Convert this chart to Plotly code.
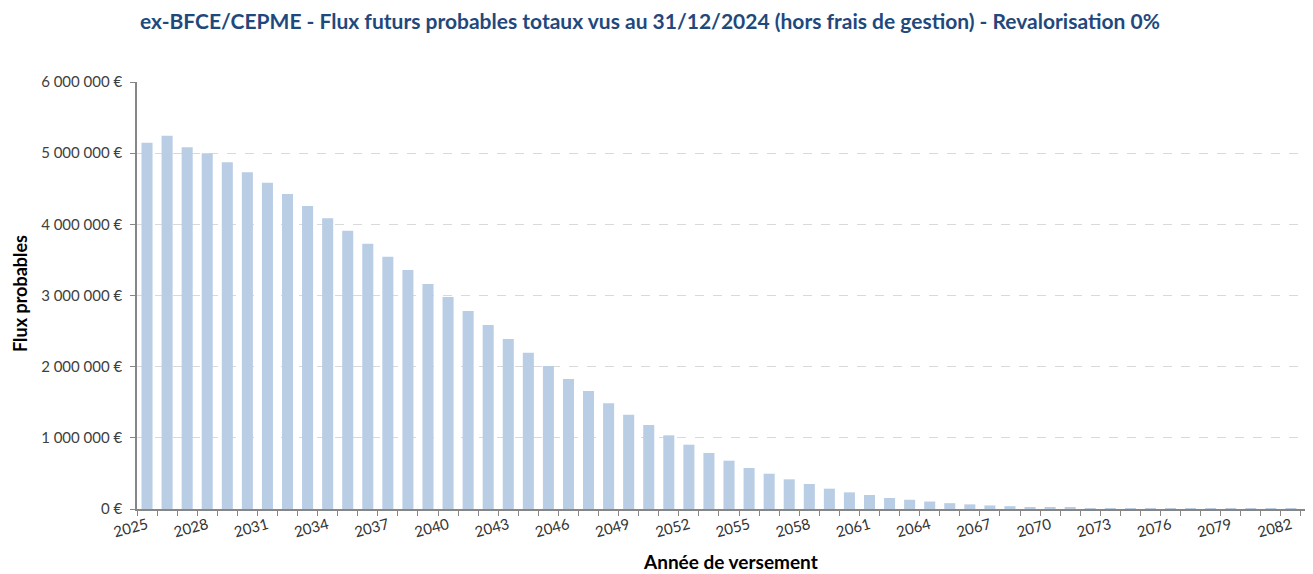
import plotly.graph_objects as go

years = list(range(2025, 2085))
flux_m = [
    5.147, 5.245, 5.082, 4.998, 4.871, 4.731, 4.585, 4.426, 4.257, 4.085,
    3.910, 3.728, 3.545, 3.358, 3.161, 2.979, 2.782, 2.585, 2.389, 2.196,
    2.009, 1.827, 1.658, 1.485, 1.325, 1.180, 1.035, 0.904, 0.787, 0.679,
    0.576, 0.496, 0.417, 0.351, 0.286, 0.234, 0.197, 0.155, 0.130, 0.105,
    0.082, 0.065, 0.050, 0.040, 0.028, 0.022, 0.016, 0.013, 0.011, 0.010,
    0.009, 0.008, 0.008, 0.007, 0.007, 0.006, 0.006, 0.006, 0.005, 0.005,
]
flux = [v * 1_000_000 for v in flux_m]

ytick_vals = [0, 1_000_000, 2_000_000, 3_000_000, 4_000_000, 5_000_000, 6_000_000]
ytick_text = ["0 €", "1 000 000 €", "2 000 000 €", "3 000 000 €", "4 000 000 €", "5 000 000 €", "6 000 000 €"]
xtick_vals = list(range(2025, 2085, 3))
xtick_text = [str(y) for y in xtick_vals]

title_text = "ex-BFCE/CEPME - Flux futurs probables totaux vus au 31/12/2024 (hors frais de gestion) - Revalorisation 0%"

fig = go.Figure()
fig.add_trace(go.Bar(x=years, y=flux, marker=dict(color="#B9CDE5", line=dict(width=0)),
                     hoverinfo="x+y"))

FONT = "Lato, 'Open Sans', sans-serif"
PW, PH = 1176, 427

fig.update_layout(
    width=1305, height=566,
    margin=dict(l=129, r=0, t=74, b=65),
    paper_bgcolor="white", plot_bgcolor="white",
    bargap=0.45,
    showlegend=False,
    font=dict(family=FONT, color="#404040"),
    xaxis=dict(
        range=[2024.5, 2083.1],
        tickmode="array", tickvals=xtick_vals, ticktext=xtick_text,
        tickangle=-15, ticks="", ticklen=0,
        tickfont=dict(size=15, color="#333333"),
        showline=True, linecolor="#868686", linewidth=1.5,
        showgrid=False, zeroline=False,
        minor=dict(tickmode="linear", tick0=2024.5, dtick=1, ticks="outside",
                   ticklen=5, tickcolor="#868686", tickwidth=1, showgrid=False),
    ),
    yaxis=dict(
        range=[0, 6_000_000],
        tickmode="array", tickvals=ytick_vals, ticktext=ytick_text,
        ticks="outside", ticklen=5, tickcolor="#868686",
        ticklabelstandoff=5,
        tickfont=dict(size=15, color="#404040"),
        showline=True, linecolor="#868686", linewidth=1.5,
        showgrid=True, gridcolor="#D9D9D9", griddash="dash", gridwidth=1,
        zeroline=False,
    ),
    annotations=[
        dict(text="<b>" + title_text + "</b>", xref="paper", yref="paper",
             x=(650 - 137) / PW, y=1 + (82 - 20) / PH, xanchor="center", yanchor="middle",
             showarrow=False, font=dict(size=21, color="#1F497D", family=FONT)),
        dict(text="<b>Flux probables</b>", xref="paper", yref="paper",
             x=(20 - 137) / PW, y=(509 - 294) / PH, xanchor="center", yanchor="middle",
             textangle=-90, showarrow=False, font=dict(size=18, color="#000000", family=FONT)),
        dict(text="<b>Année de versement</b>", xref="paper", yref="paper",
             x=(730 - 137) / PW, y=-(561 - 509) / PH, xanchor="center", yanchor="middle",
             showarrow=False, font=dict(size=19, color="#000000", family=FONT)),
    ],
)

fig.write_html("out.html")
